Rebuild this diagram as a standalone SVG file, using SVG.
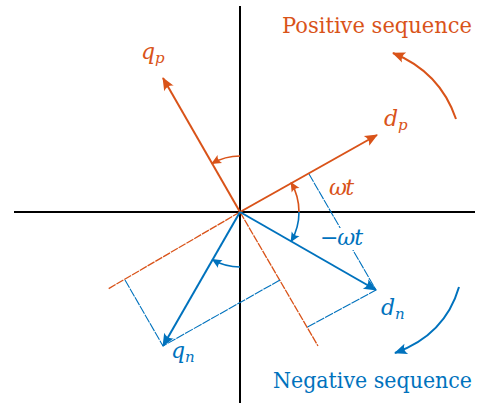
<svg xmlns="http://www.w3.org/2000/svg" width="481" height="404" viewBox="0 0 481 404">
<style>
.ax{stroke:#000;stroke-width:2;fill:none}
.o{stroke:#D95319;fill:none}
.b{stroke:#0072BD;fill:none}
.vec{stroke-width:2}
.od{stroke-width:1.3;stroke-dasharray:8 1}
.bd{stroke-width:1.1;stroke-dasharray:9 1}
.arc{stroke-width:1.6}
.rot{stroke-width:2}
.mi{font-family:'DejaVu Serif',serif;font-style:italic;font-size:22px}
.tx{font-family:'DejaVu Serif',serif;font-size:21.5px}
.to{fill:#D95319}
.tb{fill:#0072BD}
</style>
<defs>
<marker id="ao" viewBox="-14 -7 16 14" refX="0" refY="0" markerWidth="16" markerHeight="14" markerUnits="userSpaceOnUse" orient="auto"><path d="M1,0 L-12,-5.5 Q-8,0 -12,5.5 Z" fill="#D95319"/></marker>
<marker id="ab" viewBox="-14 -7 16 14" refX="0" refY="0" markerWidth="16" markerHeight="14" markerUnits="userSpaceOnUse" orient="auto"><path d="M1,0 L-12,-5.5 Q-8,0 -12,5.5 Z" fill="#0072BD"/></marker>
<marker id="aos" viewBox="-11 -6 13 12" refX="0" refY="0" markerWidth="13" markerHeight="12" markerUnits="userSpaceOnUse" orient="auto"><path d="M1,0 L-9,-4.5 Q-6,0 -9,4.5 Z" fill="#D95319"/></marker>
<marker id="abs" viewBox="-11 -6 13 12" refX="0" refY="0" markerWidth="13" markerHeight="12" markerUnits="userSpaceOnUse" orient="auto"><path d="M1,0 L-9,-4.5 Q-6,0 -9,4.5 Z" fill="#0072BD"/></marker>
</defs>
<g id="axes">
<line class="ax" x1="14" y1="212" x2="475" y2="212"/>
<line class="ax" x1="240" y1="6" x2="240" y2="403"/>
</g>
<g id="connectors">
<line class="o od" x1="240" y1="212" x2="108" y2="289"/>
<line class="o od" x1="240" y1="212" x2="318" y2="346"/>
<line class="b bd" x1="309" y1="174" x2="376" y2="290"/>
<line class="b bd" x1="307.5" y1="327" x2="376" y2="290"/>
<line class="b bd" x1="125" y1="280" x2="163" y2="346"/>
<line class="b bd" x1="280" y1="280" x2="163" y2="346"/>
<path class="o arc" d="M240,156 A56,56 0 0 0 212,163.5" marker-end="url(#aos)"/>
<path class="b arc" d="M240,267 A55,55 0 0 1 212.5,259.6" marker-end="url(#abs)"/>
<path class="o arc" d="M299,212 A59,59 0 0 0 291.1,182.5" marker-end="url(#aos)"/>
<path class="b arc" d="M299,212 A59,59 0 0 1 291.1,241.5" marker-end="url(#abs)"/>
<path class="o rot" d="M456,119 Q440,72 393,53" marker-end="url(#ao)"/>
<path class="b rot" d="M459,287 Q445,335 395,353" marker-end="url(#ab)"/>
</g>
<g id="dp">
<line class="o vec" x1="240" y1="212" x2="377" y2="135" marker-end="url(#ao)"/>
<text class="mi to" x="384" y="126">d<tspan font-size="15" dy="4">p</tspan></text>
</g>
<g id="qp">
<line class="o vec" x1="240" y1="212" x2="163" y2="78" marker-end="url(#ao)"/>
<text class="mi to" x="141" y="59">q<tspan font-size="15" dy="4">p</tspan></text>
</g>
<g id="dn">
<line class="b vec" x1="240" y1="212" x2="376" y2="290" marker-end="url(#ab)"/>
<text class="mi tb" x="381" y="315">d<tspan font-size="15" dy="4">n</tspan></text>
</g>
<g id="qn">
<line class="b vec" x1="240" y1="212" x2="163" y2="346" marker-end="url(#ab)"/>
<text class="mi tb" x="171" y="358">q<tspan font-size="15" dy="4">n</tspan></text>
</g>
<g id="labels">
<text class="mi to" x="329" y="195" textLength="25">ωt</text>
<rect x="319" y="228" width="46" height="22" fill="#fff"/>
<text class="mi tb" x="320" y="245" textLength="43">−ωt</text>
<text class="tx to" x="282" y="33" textLength="190" lengthAdjust="spacingAndGlyphs">Positive sequence</text>
<text class="tx tb" x="273" y="388" textLength="199" lengthAdjust="spacingAndGlyphs">Negative sequence</text>
</g>
</svg>
